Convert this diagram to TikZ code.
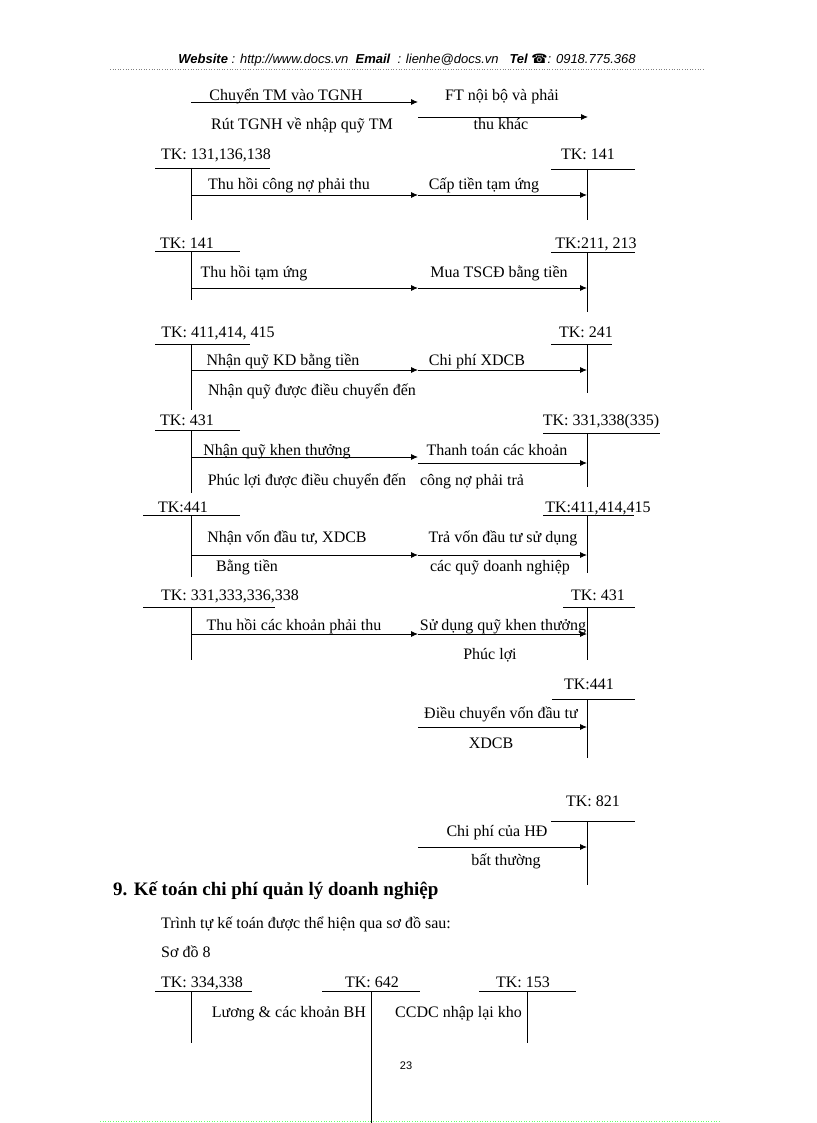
\documentclass[tikz,border=0pt]{standalone}
\usepackage{fontspec}
\setmainfont{Liberation Serif}
\newfontfamily\hdrfont{Liberation Sans}
\newfontfamily\symfont{DejaVu Sans}
\usetikzlibrary{arrows.meta}
\begin{document}
\begin{tikzpicture}[x=1pt,y=-1pt,
  txt/.style={font=\fontsize{16}{19}\selectfont, inner sep=0pt, anchor=base},
  acct/.style={line width=0.9pt},
  flow/.style={line width=0.9pt,-{Latex[length=7pt,width=6pt]}},
]
\useasboundingbox (0,0) rectangle (816,1123);
% header
\node[anchor=base, inner sep=0pt, font=\hdrfont\fontsize{13}{15}\selectfont\itshape] (hdr) at (407,64)
  {\textbf{Website} : http://www.docs.vn\ \ \textbf{Email}\ \ : lienhe@docs.vn\ \ \ \textbf{Tel} {\symfont\upshape ☎}: 0918.775.368};
\draw[dotted, gray, line width=0.6pt] (110,69) -- (705,69);

% ---- row 0
\coordinate (r0a) at (191,102); \coordinate (r0b) at (418,102);
\coordinate (r0c) at (418,117); \coordinate (r0d) at (588,117);
\draw[flow] (r0a) -- (r0b);
\draw[flow] (r0c) -- (r0d);
\node[txt] (t01) at (286,101) {Chuyển TM vào TGNH};
\node[txt] (t02) at (302,130) {Rút TGNH về nhập quỹ TM};
\node[txt] (t03) at (502,101) {FT nội bộ và phải};
\node[txt] (t04) at (501,130) {thu khác};

% ---- row A
\node[txt] (kA1) at (216,160) {TK: 131,136,138};
\node[txt] (kA2) at (588,160) {TK: 141};
\coordinate (uA1) at (155,168); \coordinate (uA2) at (270,168);
\coordinate (vA1) at (191,168); \coordinate (vA2) at (191,220);
\coordinate (uA3) at (551,169); \coordinate (uA4) at (635,169);
\coordinate (vA3) at (587,169); \coordinate (vA4) at (587,220);
\draw[acct] (uA1) -- (uA2); \draw[acct] (vA1) -- (vA2);
\draw[acct] (uA3) -- (uA4); \draw[acct] (vA3) -- (vA4);
\coordinate (aA1) at (191,195); \coordinate (aA2) at (418,195); \coordinate (aA3) at (587,195);
\draw[flow] (aA1) -- (aA2); \draw[flow] (aA2) -- (aA3);
\node[txt] (tA1) at (289,190) {Thu hồi công nợ phải thu};
\node[txt] (tA2) at (484,190) {Cấp tiền tạm ứng};

% ---- row B
\node[txt] (kB1) at (187,248) {TK: 141};
\node[txt] (kB2) at (596,248) {TK:211, 213};
\coordinate (uB1) at (155,251); \coordinate (uB2) at (240,251);
\coordinate (vB1) at (191,251); \coordinate (vB2) at (191,300);
\coordinate (uB3) at (551,252); \coordinate (uB4) at (635,252);
\coordinate (vB3) at (587,252); \coordinate (vB4) at (587,312);
\draw[acct] (uB1) -- (uB2); \draw[acct] (vB1) -- (vB2);
\draw[acct] (uB3) -- (uB4); \draw[acct] (vB3) -- (vB4);
\coordinate (aB1) at (191,288); \coordinate (aB2) at (418,288); \coordinate (aB3) at (587,288);
\draw[flow] (aB1) -- (aB2); \draw[flow] (aB2) -- (aB3);
\node[txt] (tB1) at (254,277) {Thu hồi tạm ứng};
\node[txt] (tB2) at (499,277) {Mua TSCĐ bằng tiền};

% ---- row C
\node[txt] (kC1) at (218,337) {TK: 411,414, 415};
\node[txt] (kC2) at (586,337) {TK: 241};
\coordinate (uC1) at (155,344); \coordinate (uC2) at (250,344);
\coordinate (vC1) at (191,344); \coordinate (vC2) at (191,410);
\coordinate (uC3) at (551,344); \coordinate (uC4) at (612,344);
\coordinate (vC3) at (587,344); \coordinate (vC4) at (587,393);
\draw[acct] (uC1) -- (uC2); \draw[acct] (vC1) -- (vC2);
\draw[acct] (uC3) -- (uC4); \draw[acct] (vC3) -- (vC4);
\coordinate (aC1) at (191,370); \coordinate (aC2) at (418,370); \coordinate (aC3) at (587,370);
\draw[flow] (aC1) -- (aC2); \draw[flow] (aC2) -- (aC3);
\node[txt] (tC1) at (283,365) {Nhận quỹ KD bằng tiền};
\node[txt] (tC2) at (477,365) {Chi phí XDCB};
\node[txt] (tC3) at (312,395) {Nhận quỹ được điều chuyển đến};

% ---- row D
\node[txt] (kD1) at (187,425) {TK: 431};
\node[txt] (kD2) at (601,425) {TK: 331,338(335)};
\coordinate (uD1) at (155,430); \coordinate (uD2) at (240,430);
\coordinate (vD1) at (191,430); \coordinate (vD2) at (191,493);
\coordinate (uD3) at (543,433); \coordinate (uD4) at (660,433);
\coordinate (vD3) at (587,433); \coordinate (vD4) at (587,487);
\draw[acct] (uD1) -- (uD2); \draw[acct] (vD1) -- (vD2);
\draw[acct] (uD3) -- (uD4); \draw[acct] (vD3) -- (vD4);
\coordinate (aD1) at (191,457); \coordinate (aD2) at (418,457);
\coordinate (aD3) at (418,463); \coordinate (aD4) at (587,463);
\draw[flow] (aD1) -- (aD2); \draw[flow] (aD3) -- (aD4);
\node[txt] (tD1) at (277,455) {Nhận quỹ khen thưởng};
\node[txt] (tD2) at (497,455) {Thanh toán các khoản};
\node[txt] (tD3) at (307,485) {Phúc lợi được điều chuyển đến};
\node[txt] (tD4) at (472,485) {công nợ phải trả};

% ---- row E
\node[txt] (kE1) at (183,512) {TK:441};
\node[txt] (kE2) at (598,512) {TK:411,414,415};
\coordinate (uE1) at (143,515); \coordinate (uE2) at (240,515);
\coordinate (vE1) at (191,515); \coordinate (vE2) at (191,577);
\coordinate (uE3) at (543,515); \coordinate (uE4) at (634,515);
\coordinate (vE3) at (587,515); \coordinate (vE4) at (587,573);
\draw[acct] (uE1) -- (uE2); \draw[acct] (vE1) -- (vE2);
\draw[acct] (uE3) -- (uE4); \draw[acct] (vE3) -- (vE4);
\coordinate (aE1) at (191,555); \coordinate (aE2) at (418,555); \coordinate (aE3) at (587,555);
\draw[flow] (aE1) -- (aE2); \draw[flow] (aE2) -- (aE3);
\node[txt] (tE1) at (287,542) {Nhận vốn đầu tư, XDCB};
\node[txt] (tE2) at (503,542) {Trả vốn đầu tư sử dụng};
\node[txt] (tE3) at (247,571) {Bằng tiền};
\node[txt] (tE4) at (500,571) {các quỹ doanh nghiệp};

% ---- row F
\node[txt] (kF1) at (230,600) {TK: 331,333,336,338};
\node[txt] (kF2) at (598,600) {TK: 431};
\coordinate (uF1) at (143,607); \coordinate (uF2) at (275,607);
\coordinate (vF1) at (191,607); \coordinate (vF2) at (191,660);
\coordinate (uF3) at (563,607); \coordinate (uF4) at (635,607);
\coordinate (vF3) at (587,607); \coordinate (vF4) at (587,660);
\draw[acct] (uF1) -- (uF2); \draw[acct] (vF1) -- (vF2);
\draw[acct] (uF3) -- (uF4); \draw[acct] (vF3) -- (vF4);
\coordinate (aF1) at (191,634); \coordinate (aF2) at (418,634); \coordinate (aF3) at (587,634);
\draw[flow] (aF1) -- (aF2); \draw[flow] (aF2) -- (aF3);
\node[txt] (tF1) at (294,630) {Thu hồi các khoản phải thu};
\node[txt] (tF2) at (503,630) {Sử dụng quỹ khen thưởng};
\node[txt] (tF3) at (490,659) {Phúc lợi};

% ---- row G
\node[txt] (kG) at (589,689) {TK:441};
\coordinate (uG1) at (552,699); \coordinate (uG2) at (635,699);
\coordinate (vG1) at (587,699); \coordinate (vG2) at (587,758);
\draw[acct] (uG1) -- (uG2); \draw[acct] (vG1) -- (vG2);
\coordinate (aG1) at (418,727); \coordinate (aG2) at (587,727);
\draw[flow] (aG1) -- (aG2);
\node[txt] (tG1) at (501,718) {Điều chuyển vốn đầu tư};
\node[txt] (tG2) at (491,748) {XDCB};

% ---- row H
\node[txt] (kH) at (593,806) {TK: 821};
\coordinate (uH1) at (551,821); \coordinate (uH2) at (635,821);
\coordinate (vH1) at (587,821); \coordinate (vH2) at (587,885);
\draw[acct] (uH1) -- (uH2); \draw[acct] (vH1) -- (vH2);
\coordinate (aH1) at (418,847); \coordinate (aH2) at (587,847);
\draw[flow] (aH1) -- (aH2);
\node[txt] (tH1) at (497,836) {Chi phí của HĐ};
\node[txt] (tH2) at (506,865) {bất thường};

% ---- section 9
\node[anchor=base west, inner sep=0pt, font=\fontsize{19}{22}\selectfont\bfseries] (h9) at (113,895) {9. Kế toán chi phí quản lý doanh nghiệp};
\node[txt, anchor=base west] (p1) at (161,928) {Trình tự kế toán được thể hiện qua sơ đồ sau:};
\node[txt, anchor=base west] (p2) at (161,957) {Sơ đồ 8};

\node[txt] (k1) at (202,987) {TK: 334,338};
\node[txt] (k2) at (372,987) {TK: 642};
\node[txt] (k3) at (523,987) {TK: 153};
\coordinate (u11) at (155,991); \coordinate (u12) at (252,991);
\coordinate (u21) at (322,991); \coordinate (u22) at (420,991);
\coordinate (u31) at (479,991); \coordinate (u32) at (576,991);
\coordinate (v11) at (191,991); \coordinate (v12) at (191,1043);
\coordinate (v21) at (371,991); \coordinate (v22) at (371,1123);
\coordinate (v31) at (527,991); \coordinate (v32) at (527,1043);
\draw[acct] (u11) -- (u12); \draw[acct] (u21) -- (u22); \draw[acct] (u31) -- (u32);
\draw[acct] (v11) -- (v12); \draw[acct] (v21) -- (v22); \draw[acct] (v31) -- (v32);
\node[txt, anchor=base east] (s1) at (366,1017) {Lương \& các khoản BH};
\node[txt, anchor=base west] (s2) at (395,1017) {CCDC nhập lại kho};

\node[anchor=base, inner sep=0pt, font=\hdrfont\fontsize{11}{13}\selectfont] (pg) at (406,1069) {23};
\draw[dotted, green!60!white, line width=0.6pt] (100,1121) -- (720,1121);
\end{tikzpicture}
\end{document}
